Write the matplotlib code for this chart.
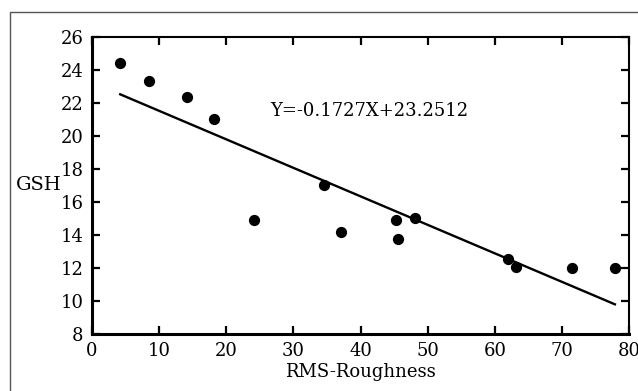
import numpy as np
import matplotlib
matplotlib.use('Agg')
import matplotlib.pyplot as plt
from matplotlib.lines import Line2D

# RMS roughness vs GSH measurements
rms_roughness = [4.2, 8.5, 14.2, 18.2, 24.1, 34.6, 37.1, 45.3, 45.6, 48.1, 62.0, 63.1, 71.5, 77.9]
gsh = [24.43, 23.34, 22.38, 21.05, 14.89, 17.0, 14.16, 14.89, 13.74, 15.05, 12.57, 12.09, 11.99, 11.97]

# linear fit shown on the chart
slope = -0.1727
intercept = 23.2512
fit_x = np.array([4.2, 77.9])

x_ticks = [0, 10, 20, 30, 40, 50, 60, 70, 80]
y_ticks = [8, 10, 12, 14, 16, 18, 20, 22, 24, 26]

plt.rcParams['font.family'] = ['DejaVu Serif']

fig = plt.figure(figsize=(6.38, 3.91), dpi=100)
ax = fig.add_axes([0.1442, 0.1458, 0.8417, 0.7596])

ax.scatter(rms_roughness, gsh, s=50, color='black', zorder=3)
ax.plot(fit_x, slope * fit_x + intercept, color='black', lw=1.7)

ax.text(26.6, 21.5, 'Y=-0.1727X+23.2512', fontsize=13, va='center', ha='left')

ax.set_xlim(0, 80)
ax.set_ylim(8, 26)
ax.set_xticks(x_ticks)
ax.set_yticks(y_ticks)
ax.tick_params(direction='in', length=6, width=1.6, labelsize=13, pad=6,
               top=True, right=True)

for side in ['left', 'bottom']:
    ax.spines[side].set_linewidth(2.2)
for side in ['top', 'right']:
    ax.spines[side].set_linewidth(1.5)

ax.set_xlabel('RMS-Roughness', fontsize=13, labelpad=2)
ax.set_ylabel('GSH', fontsize=14, rotation=0, ha='right', va='center')
ax.yaxis.set_label_coords(-0.056, 0.5)

# thin frame around the figure
fig.add_artist(Line2D([10 / 638, 10 / 638, 1.0], [0.0, 1 - 12 / 391, 1 - 12 / 391],
                      transform=fig.transFigure, color='#555555', lw=1.0))

fig.savefig('out.png', dpi=100)
